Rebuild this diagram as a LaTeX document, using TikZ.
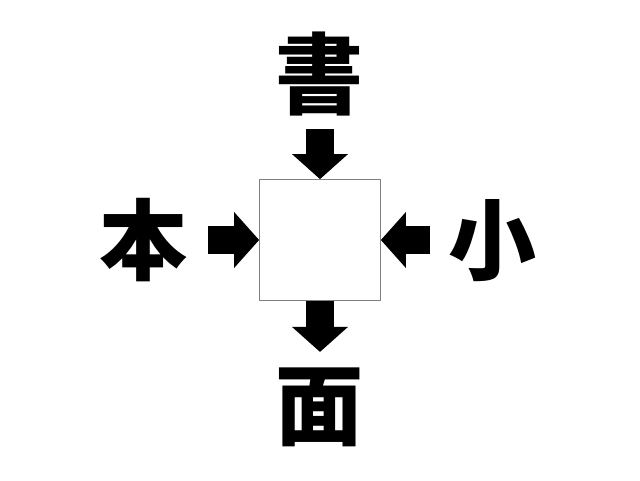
\documentclass[tikz,border=0pt]{standalone}
\usepackage{fontspec}
\newfontfamily\cjk{Noto Sans CJK JP}
\usetikzlibrary{positioning,arrows.meta}
\tikzset{
  kanji/.style={inner sep=0pt, font=\cjk\bfseries\fontsize{88}{88}\selectfont,
                text height=77pt, text depth=11pt, text width=88pt, align=center},
  blank/.style={draw=gray, line width=0.8pt, minimum size=121pt, inner sep=0pt},
  blockarrow/.style={line width=28pt, -{Triangle[width=56pt,length=25pt,line width=0pt]}}
}
\begin{document}
\begin{tikzpicture}
    \node (bx) [blank] {};
    \useasboundingbox (bx.center) +(-320pt,-240pt) rectangle +(320pt,240pt);
    \node (sho) [kanji, above=60pt of bx] {書};
    \node (hon) [kanji, left=71pt of bx] {本};
    \node (ko) [kanji, right=67pt of bx] {小};
    \node (men) [kanji, below=60pt of bx] {面};
    \draw[blockarrow, shorten <=10pt] (sho) -- (bx.north);
    \draw[blockarrow, shorten <=20pt] (hon) -- (bx.west);
    \draw[blockarrow, shorten <=18pt] (ko) -- (bx.east);
    \draw[blockarrow, shorten >=9pt] (bx.south) -- (men);
\end{tikzpicture}
\end{document}
